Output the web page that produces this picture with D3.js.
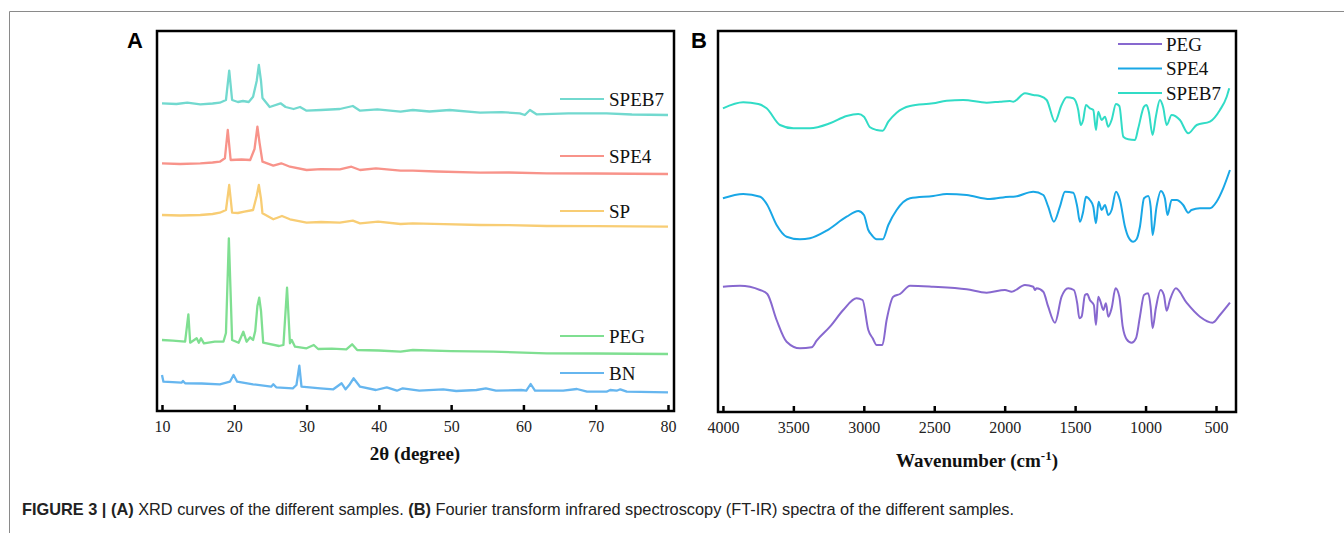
<!DOCTYPE html>
<html>
<head>
<meta charset="utf-8">
<script src="https://cdn.jsdelivr.net/npm/d3@7"></script>
<style>
    body { margin: 0; background: #fff; }
    svg { display: block; }
    .legend { font-family: "Liberation Serif", "Times New Roman", serif; font-size: 19px; fill: #111; }
    .axis-title { font-family: "Liberation Serif", "Times New Roman", serif; font-size: 19px; font-weight: bold; fill: #111; }
    .panel-tag { font-family: "Liberation Sans", Arial, sans-serif; font-size: 22px; font-weight: bold; fill: #000; }
    .caption { font-family: "Liberation Sans", Arial, sans-serif; font-size: 16px; fill: #222; }
</style>
</head>
<body>
<div id="fig"></div>
<script>
// XRD (panel A): [2theta, intensity a.u.]
let xrdSPEB7 = [[10,307.7],[12,307],[13.5,308.3],[15.3,306.7],[17,307.5],[18,308.3],[18.85,311],[19.3,340.3],[19.7,311],[20.5,309],[21.2,310],[22,309],[22.6,314.3],[23.1,330],[23.4,346],[23.7,330],[23.9,313],[24.9,304],[26.4,307.7],[27.1,304],[28.2,302],[29.1,304],[30,300.3],[32,301],[34.6,302],[36.4,305],[37.4,300.3],[39.8,301.7],[43,299.3],[44.7,301],[47,299.5],[49.8,301],[54,298.3],[57,298.8],[59.5,297.7],[60.2,296],[60.9,301],[61.8,296.7],[66.2,297.7],[71.5,297.7],[75,296.5],[80,296]];
let xrdSPE4 = [[10,247.7],[12.5,247],[15.3,247.7],[17,248.5],[18,249.3],[18.7,252.7],[19.1,281],[19.5,251],[21,251.5],[22.2,251],[22.8,262],[23.2,284.3],[23.5,268],[23.9,249.3],[25.4,245.3],[26.5,247.7],[27.7,244.3],[30,241],[32,241.8],[34.6,241.7],[36.2,244.3],[37.4,241],[39.6,242.7],[43,240.3],[44.7,240.3],[48,239.5],[54,238.3],[58,238.5],[63.2,237.7],[70,237.5],[80,237]];
let xrdSP = [[10,196],[12.5,195.5],[15.3,196],[17,197],[18,198.3],[18.85,201],[19.3,226],[19.7,198.3],[20.5,198],[21.4,199.3],[22.6,201],[23.1,215],[23.4,226],[23.7,212],[23.9,197.7],[25.4,191.7],[26.6,195],[27.7,191.7],[30,188.3],[32,189],[34.6,188.3],[36.4,190.3],[37.4,187.7],[39.9,189.3],[43,187],[44.7,187.7],[49,186.8],[54,186],[58,185.8],[63.2,185],[70,184.8],[80,184.3]];
let xrdPEG = [[10,71],[11.5,70.3],[13.2,69.3],[13.65,96.7],[13.9,68.3],[14.8,72.7],[15.1,68.3],[15.4,72.7],[15.8,67.7],[17.3,69.3],[18.5,69.3],[18.85,78],[19.25,172.7],[19.7,71],[20.6,68.3],[21.25,79.3],[21.7,69.3],[22.2,73.7],[22.6,71],[22.9,80],[23.2,105],[23.45,113.3],[23.7,100],[24,68.3],[26.2,65],[26.8,66],[27.3,123.3],[27.7,67.7],[27.95,71],[28.4,64.3],[30,62.7],[31,66],[31.6,62],[33.5,62.3],[35.5,61.7],[36.3,66.7],[37,61],[40,60.5],[43,59.3],[44.7,61],[50,59.8],[55.8,59.3],[63.2,57.7],[70,57.5],[80,57]];
let xrdBN = [[10,36],[10.2,29.3],[12.7,28.3],[12.9,30],[13.2,27.7],[15.5,27.5],[18,26.7],[19.4,29.3],[19.9,36],[20.4,29.3],[22.6,26.7],[25.1,24.3],[25.4,26.7],[25.8,23.7],[28.1,22.7],[28.6,26],[29,45.3],[29.3,24.3],[31.9,22.7],[33.7,21.7],[34.85,27.7],[35.4,21.7],[35.9,26],[36.5,32.7],[37.4,24.3],[39.6,21],[41.1,23.7],[42.5,20.3],[43.3,22.7],[45.6,20.3],[48.9,21.7],[50.7,20],[53.5,21],[54.8,22.7],[56.2,20.3],[59.7,21],[60.4,20.3],[61,27],[61.6,20.3],[65.5,20.3],[67.4,22],[68.8,19.3],[71.5,19.3],[72,21],[72.9,20.3],[73.4,21.7],[74.3,19.3],[80,18.7]];

let xrdNames = ["SPEB7", "SPE4", "SP", "PEG", "BN"];
let xrdColors = ["#72d9cf", "#f8938a", "#f8cd74", "#7fdf91", "#66b6ef"];
let xrdLegendLevel = [312, 255, 200, 75, 38];   // legend placement, a.u.
let xrdTicks = [10, 20, 30, 40, 50, 60, 70, 80];

// FT-IR (panel B): [wavenumber, transmittance a.u.]
let irPEG = [[4000,125.3],[3879,126.3],[3737,122],[3685,118],[3619,92],[3548,70.3],[3453,63.7],[3370,64.7],[3335,71.3],[3240,85.3],[3146,102],[3051,113.7],[3009,112],[2968,82],[2937,73.7],[2909,67],[2868,67],[2838,92],[2791,115.3],[2743,118],[2672,126.3],[2507,125.3],[2270,122.7],[2128,119.3],[1998,122],[1950,120.3],[1856,127],[1797,125.3],[1785,122],[1774,123.7],[1726,120.3],[1691,105.3],[1643,89.3],[1596,115.3],[1549,123.7],[1509,122],[1485,108.7],[1470,93.7],[1454,95.3],[1430,117],[1414,118],[1395,112],[1367,107],[1352,87],[1336,115.3],[1320,110.3],[1300,102],[1281,108.7],[1265,95.3],[1241,103.7],[1213,123.7],[1186,115.3],[1162,85.3],[1134,72.7],[1099,69.3],[1068,73.7],[1040,95.3],[1011,117],[981,118.7],[964,105.3],[950,83.7],[927,103.7],[893,122],[870,117],[850,101.3],[827,112],[785,123.7],[709,109.3],[614,95.3],[524,89.3],[472,97],[401,109.3]];
let irSPE4 = [[4000,213.7],[3856,218],[3735,215.3],[3685,207],[3619,187],[3548,175.3],[3453,172.7],[3382,173.7],[3264,181.3],[3122,195.3],[3039,201],[2999,197],[2968,182],[2944,177],[2909,172.7],[2866,172.7],[2826,187],[2767,202],[2672,213.7],[2507,216],[2412,218],[2270,217],[2105,213],[1963,215.3],[1939,215.3],[1797,220.3],[1726,217],[1691,205.3],[1651,190.3],[1608,205.3],[1572,220.3],[1513,219.3],[1485,205.3],[1466,190.3],[1443,200.3],[1423,215.3],[1395,212],[1371,205.3],[1352,188.7],[1333,210.3],[1312,202],[1288,207],[1265,197],[1241,202],[1210,220.3],[1182,212],[1146,185.3],[1123,175.3],[1087,170.3],[1064,172.7],[1040,185.3],[1011,213.7],[981,216],[964,205.3],[950,177],[922,205.3],[891,221],[863,213.7],[844,197],[815,212],[780,212],[733,207],[697,199.3],[674,202],[614,203.7],[543,203.7],[496,210.3],[449,223.7],[401,242]];
let irSPEB7 = [[4000,303.7],[3856,309.7],[3749,308],[3690,303.7],[3595,287],[3500,283.7],[3382,283.7],[3240,288.7],[3122,296],[3039,298],[2999,295.3],[2956,284.7],[2909,282],[2866,281.3],[2826,290.3],[2767,299.3],[2672,306],[2507,308.7],[2412,311.3],[2294,312],[2128,309.3],[2034,310.3],[1963,311],[1939,310.3],[1856,318.7],[1797,317],[1750,316],[1702,312],[1643,290.3],[1596,307],[1560,314.7],[1513,313.7],[1478,302],[1460,287],[1443,292],[1423,307],[1395,303.7],[1371,302],[1352,282],[1336,300.3],[1312,292],[1288,295.3],[1265,285.3],[1241,292],[1210,308],[1186,306],[1158,275.3],[1123,272.7],[1075,272],[1052,283.7],[1011,305.3],[993,307],[977,300.3],[950,277],[927,295.3],[898,312],[875,304.7],[850,287],[815,297],[756,292],[697,278.7],[637,287],[543,290.3],[472,302],[424,315.3],[406,323.7]];

let irNames = ["PEG", "SPE4", "SPEB7"];
let irColors = ["#8768cf", "#19a7e6", "#31dcc6"];
let irTicks = [4000, 3500, 3000, 2500, 2000, 1500, 1000, 500];

let captionParts = [
    ["FIGURE 3 | ", true], ["(A)", true], [" XRD curves of the different samples. ", false],
    ["(B)", true], [" Fourier transform infrared spectroscopy (FT-IR) spectra of the different samples.", false]
];

const W = 1344, H = 533;
const svg = d3.select("#fig").append("svg").attr("width", W).attr("height", H);

// outer figure frame (top and left rule)
svg.append("path")
    .attr("d", "M9.5," + H + "V11.5H" + W)
    .attr("fill", "none").attr("stroke", "#8a8a8a").attr("stroke-width", 1);

function drawPanel(opts) {
    const g = svg.append("g");
    const x = d3.scaleLinear().domain(opts.xDomain).range([opts.left, opts.right]);
    const y = d3.scaleLinear().domain(opts.yDomain).range([opts.bottom, opts.top]);

    const line = d3.line().x(d => x(d[0])).y(d => y(d[1])).curve(opts.curve);
    opts.series.forEach((s, i) => {
        g.append("path")
            .datum(s)
            .attr("fill", "none")
            .attr("stroke", opts.colors[i])
            .attr("stroke-width", opts.lw)
            .attr("stroke-linejoin", "round")
            .attr("d", line);
    });

    // axis with inward ticks
    const ax = g.append("g")
        .attr("transform", "translate(0," + opts.bottom + ")")
        .call(d3.axisBottom(x).tickValues(opts.ticks).tickFormat(d3.format("d"))
            .tickSizeInner(-6).tickSizeOuter(0).tickPadding(10));
    ax.select(".domain").remove();
    ax.selectAll(".tick line").attr("stroke", "#000").attr("stroke-width", 2.5);
    ax.selectAll(".tick text")
        .style("font-family", "'Liberation Serif', 'Times New Roman', serif")
        .style("font-size", "16px")
        .style("fill", "#222");

    // frame
    g.append("rect")
        .attr("x", opts.left).attr("y", opts.top)
        .attr("width", opts.right - opts.left).attr("height", opts.bottom - opts.top)
        .attr("fill", "none").attr("stroke", "#000").attr("stroke-width", 2.5);

    g.append("text").attr("class", "panel-tag")
        .attr("x", opts.tagX).attr("y", 48).text(opts.tag);

    return { g: g, x: x, y: y };
}

// ---- panel A
const pa = drawPanel({
    left: 157, right: 674, top: 31, bottom: 411,
    xDomain: [9.31, 80.83], yDomain: [0, 380],
    series: [xrdSPEB7, xrdSPE4, xrdSP, xrdPEG, xrdBN],
    colors: xrdColors, ticks: xrdTicks, curve: d3.curveLinear, lw: 2.3,
    tag: "A", tagX: 127
});
xrdNames.forEach((n, i) => {
    const ly = pa.y(xrdLegendLevel[i]);
    pa.g.append("line").attr("x1", 560).attr("x2", 604).attr("y1", ly).attr("y2", ly)
        .attr("stroke", xrdColors[i]).attr("stroke-width", 2);
    pa.g.append("text").attr("class", "legend").attr("x", 609).attr("y", ly).attr("dy", "0.35em").text(n);
});
pa.g.append("text").attr("class", "axis-title")
    .attr("x", 415).attr("y", 460).attr("text-anchor", "middle").text("2θ (degree)");

// ---- panel B
const pb = drawPanel({
    left: 718, right: 1236, top: 31, bottom: 412,
    xDomain: [4035, 358], yDomain: [0, 381],
    series: [irPEG, irSPE4, irSPEB7],
    colors: irColors, ticks: irTicks, curve: d3.curveMonotoneX, lw: 2,
    tag: "B", tagX: 691
});
irNames.forEach((n, i) => {
    const ly = 44 + i * 24.5;
    pb.g.append("line").attr("x1", 1118).attr("x2", 1162).attr("y1", ly).attr("y2", ly)
        .attr("stroke", irColors[i]).attr("stroke-width", 2);
    pb.g.append("text").attr("class", "legend").attr("x", 1166).attr("y", ly).attr("dy", "0.35em").text(n);
});
const wt = pb.g.append("text").attr("class", "axis-title")
    .attr("x", 977).attr("y", 467).attr("text-anchor", "middle");
wt.append("tspan").text("Wavenumber (cm");
wt.append("tspan").attr("dy", -7).attr("font-size", 13).text("-1");
wt.append("tspan").attr("dy", 7).text(")");

// ---- caption, stretched to the reference width (condensed face)
const cap = svg.append("text").attr("class", "caption").attr("x", 0).attr("y", 0);
captionParts.forEach(p => {
    cap.append("tspan").attr("font-weight", p[1] ? "bold" : "normal").text(p[0]);
});
const capW = cap.node().getComputedTextLength();
cap.attr("transform", "translate(22,515) scale(" + (993 / capW) + ",1)");
</script>
</body>
</html>
